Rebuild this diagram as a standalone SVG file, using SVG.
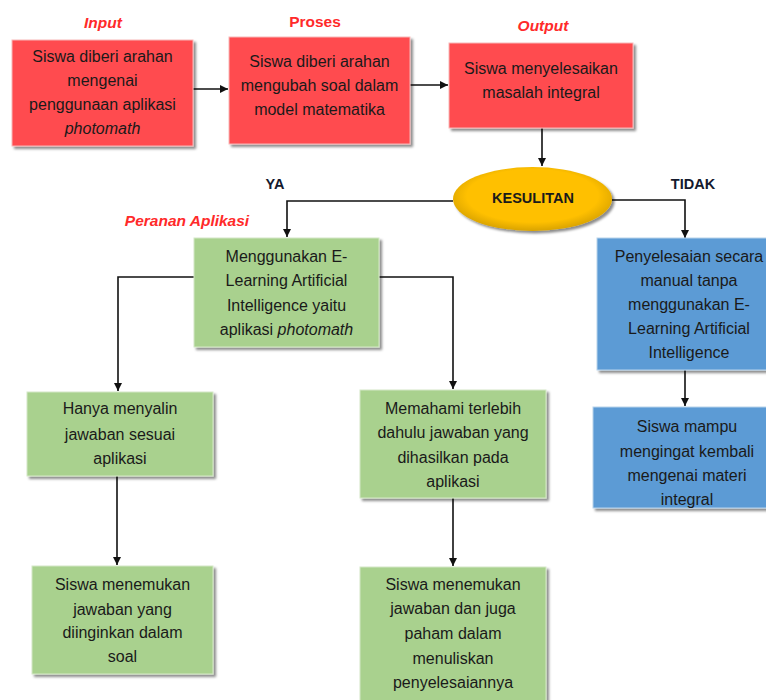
<svg xmlns="http://www.w3.org/2000/svg" width="766" height="700" viewBox="0 0 766 700">
<style>
text{font-family:"Liberation Sans",Arial,sans-serif;font-size:16px;fill:#1a1a1a;text-anchor:middle}
.lbl{fill:#ff2a2a;font-weight:bold;font-size:15.5px}
.it{font-style:italic}
.yn{font-weight:bold;font-size:14.5px;fill:#141a2e}
.red{fill:#ff4b4f;stroke:#f7b7b7;stroke-width:1}
.green{fill:#a9d18e;stroke:#d4e8c6;stroke-width:1}
.blue{fill:#5b9bd5;stroke:#b9d3ec;stroke-width:1}
.sh{filter:url(#shadow)}
#connectors path{fill:none;stroke:#111;stroke-width:1.6;marker-end:url(#arr)}
</style>
<defs>
<filter id="shadow" x="-10%" y="-10%" width="130%" height="130%">
<feDropShadow dx="2.5" dy="2.5" stdDeviation="1.2" flood-color="#000" flood-opacity="0.45"/>
</filter>
<radialGradient id="gold" cx="50%" cy="45%" r="55%">
<stop offset="0%" stop-color="#ffc000"/>
<stop offset="75%" stop-color="#ffc000"/>
<stop offset="100%" stop-color="#d9a300"/>
</radialGradient>
<marker id="arr" markerUnits="userSpaceOnUse" markerWidth="9" markerHeight="9" refX="8" refY="4.5" orient="auto">
<path d="M0,0.5 L8,4.5 L0,8.5 z" fill="#111"/>
</marker>
</defs>
<rect width="766" height="700" fill="#fff"/>

<g id="labels">
<text class="lbl it" x="103" y="28">Input</text>
<text class="lbl" x="315" y="27">Proses</text>
<text class="lbl it" x="543" y="31">Output</text>
<text class="yn" x="275" y="189">YA</text>
<text class="yn" x="693" y="189">TIDAK</text>
<text class="lbl it" x="187" y="226">Peranan Aplikasi</text>
</g>

<g id="connectors">
<path d="M193,89 H228"/>
<path d="M410,85 H448"/>
<path d="M542,128 V166"/>
<path d="M453,201 H287 V237"/>
<path d="M612,200 H685 V238"/>
<path d="M194,277 H118 V391"/>
<path d="M379,277 H453 V389"/>
<path d="M685,370 V406"/>
<path d="M117,476 V565"/>
<path d="M453,498 V566"/>
</g>

<g id="input">
<rect class="red sh" x="12" y="40" width="181" height="106"/>
<text x="102.5" y="62">Siswa diberi arahan</text>
<text x="102.5" y="86">mengenai</text>
<text x="102.5" y="110">penggunaan aplikasi</text>
<text x="102.5" y="134" class="it">photomath</text>
</g>

<g id="proses">
<rect class="red sh" x="229" y="37" width="181" height="107"/>
<text x="319.5" y="67">Siswa diberi arahan</text>
<text x="319.5" y="91">mengubah soal dalam</text>
<text x="319.5" y="115">model matematika</text>
</g>

<g id="output">
<rect class="red sh" x="449" y="43" width="184" height="85"/>
<text x="541" y="74">Siswa menyelesaikan</text>
<text x="541" y="98">masalah integral</text>
</g>

<g id="kesulitan">
<ellipse class="sh" cx="532.5" cy="199" rx="79.5" ry="32" fill="url(#gold)"/>
<text x="533" y="203" style="font-weight:bold;font-size:14.5px">KESULITAN</text>
</g>

<g id="peranan">
<rect class="green sh" x="194" y="238" width="185" height="109"/>
<text x="286.5" y="262">Menggunakan E-</text>
<text x="286.5" y="286">Learning Artificial</text>
<text x="286.5" y="311">Intelligence yaitu</text>
<text x="286.5" y="335">aplikasi <tspan class="it">photomath</tspan></text>
</g>

<g id="manual">
<rect class="blue sh" x="597" y="238" width="185" height="132"/>
<text x="689" y="262">Penyelesaian secara</text>
<text x="689" y="286">manual tanpa</text>
<text x="689" y="310">menggunakan E-</text>
<text x="689" y="334">Learning Artificial</text>
<text x="689" y="358">Intelligence</text>
</g>

<g id="mampu">
<rect class="blue sh" x="593" y="407" width="189" height="101"/>
<text x="687" y="432">Siswa mampu</text>
<text x="687" y="457">mengingat kembali</text>
<text x="687" y="481">mengenai materi</text>
<text x="687" y="505">integral</text>
</g>

<g id="menyalin">
<rect class="green sh" x="27" y="392" width="186" height="84"/>
<text x="120" y="414">Hanya menyalin</text>
<text x="120" y="440">jawaban sesuai</text>
<text x="120" y="464">aplikasi</text>
</g>

<g id="menemukan1">
<rect class="green sh" x="32" y="566" width="181" height="108"/>
<text x="122.5" y="590">Siswa menemukan</text>
<text x="122.5" y="615">jawaban yang</text>
<text x="122.5" y="638">diinginkan dalam</text>
<text x="122.5" y="662">soal</text>
</g>

<g id="memahami">
<rect class="green sh" x="360" y="390" width="186" height="108"/>
<text x="453" y="414">Memahami terlebih</text>
<text x="453" y="438">dahulu jawaban yang</text>
<text x="453" y="463">dihasilkan pada</text>
<text x="453" y="487">aplikasi</text>
</g>

<g id="menemukan2">
<rect class="green sh" x="360" y="567" width="186" height="140"/>
<text x="453" y="590">Siswa menemukan</text>
<text x="453" y="614">jawaban dan juga</text>
<text x="453" y="639">paham dalam</text>
<text x="453" y="664">menuliskan</text>
<text x="453" y="688">penyelesaiannya</text>
</g>
</svg>
